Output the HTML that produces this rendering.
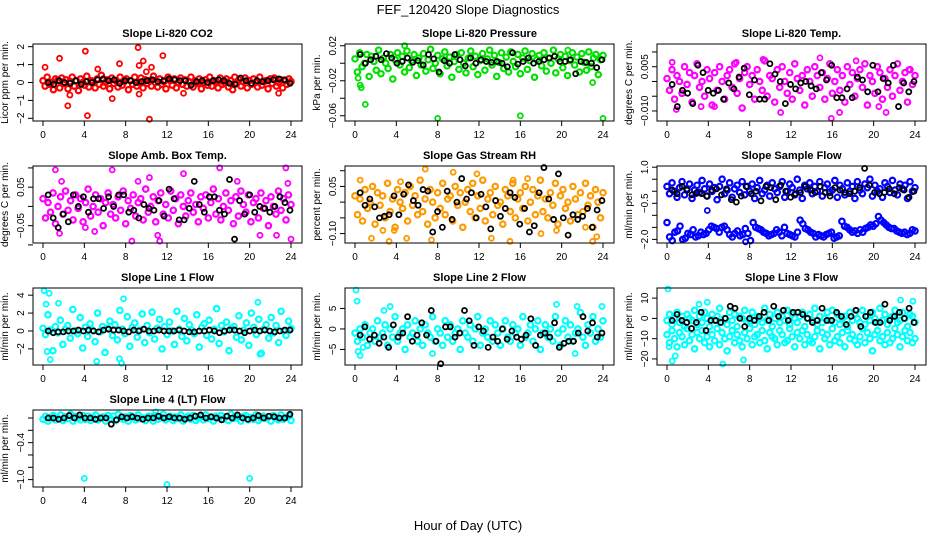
<!DOCTYPE html>
<html><head><meta charset="utf-8">
<style>
body{margin:0;background:#fff;}
svg{display:block;font-family:"Liberation Sans",sans-serif;}
</style></head>
<body>
<svg id="c" width="936" height="540" viewBox="0 0 936 540">
<rect width="936" height="540" fill="#fff"/>
<text x="468" y="14" text-anchor="middle" font-size="13">FEF_120420  Slope Diagnostics</text>
<text x="468" y="530" text-anchor="middle" font-size="13">Hour of Day (UTC)</text>
</svg>
<script>
const xTicks=[0,4,8,12,16,20,24];
// Panel 1: CO2
const co2Main=[0.1,-0.2,0.3,-0.1,0.0,-0.4,0.2,0.1,-0.3,0.25,-0.05,0.15,-0.35,0.05,0.3,-0.2,0.1,-0.45,0.2,0.0,-0.15,0.35,-0.25,0.1,0.05,-0.3,0.2,-0.1,0.4,-0.2,0.0,0.15,-0.35,0.25,-0.05,0.1,-0.25,0.3,-0.15,0.05,0.2,-0.4,0.1,-0.1,0.3,-0.2,0.0,0.25,-0.3,0.15,-0.05,0.1,-0.2,0.35,0.0,-0.25,0.2,-0.1,0.05,-0.35,0.3,0.1,-0.15,0.2,-0.3,0.0,0.25,-0.1,0.15,-0.2,0.05,0.3,-0.25,0.1,-0.05,0.2,-0.35,0.0,0.15,-0.15,0.3,-0.2,0.1,0.05,-0.3,0.25,-0.1,0.0,0.2,-0.25,0.1,-0.4,0.3,-0.05,0.15,-0.2,0.05,0.25,-0.3,0.1,-0.1,0.2,0.0,-0.25,0.3,-0.15,0.05,0.1,-0.35,0.2,-0.05,0.25,-0.2,0.0,0.15,-0.3,0.1,-0.1,0.2,0.05];
const co2Out=[[0.2,0.85],[1.6,1.35],[2.4,-1.3],[2.6,-0.7],[4.1,1.75],[4.3,-1.85],[5.3,0.75],[6.7,-0.9],[7.4,1.05],[9.2,1.95],[9.3,0.95],[9.3,-0.65],[9.7,1.2],[10.0,0.6],[10.3,-2.05],[10.5,0.85],[11.6,1.5],[13.6,-0.6],[22.8,-0.6]];
const co2Black=[0,-0.1,0.1,0,-0.05,0.1,-0.1,0.05,0,0.15,0.2,0.1,0.15,-0.05,0.1,0.1,0,0.05,0.1,0.15,0.05,0.1,0.2,0.15,0.1,0.1,-0.15,0.05,0.1,0,0.1,0.15,0.1,-0.05,-0.1,0.25,0.1,-0.05,0.1,0.05,0.1,0.15,0.2,0.15,-0.05];
// Panel 2: Pressure
const prMain=[0.005,-0.01,0.012,-0.004,0.0,0.01,-0.015,0.008,0.002,-0.008,0.015,-0.012,0.006,0.0,-0.006,0.01,-0.018,0.004,0.012,-0.002,0.008,-0.01,0.014,-0.005,0.003,0.01,-0.014,0.006,-0.002,0.011,-0.009,0.004,0.016,-0.006,0.0,0.009,-0.012,0.005,0.013,-0.003,0.007,-0.016,0.002,0.01,-0.007,0.012,0.0,-0.011,0.006,0.014,-0.004,0.008,-0.013,0.003,0.011,-0.008,0.005,0.015,-0.002,0.009,-0.015,0.001,0.012,-0.006,0.007,-0.01,0.013,0.002,-0.004,0.01,-0.012,0.006,0.014,-0.007,0.003,0.011,-0.016,0.004,0.009,-0.003,0.012,-0.009,0.006,0.0,0.015,-0.011,0.005,0.01,-0.005,0.008,-0.014,0.003,0.012,-0.002,0.007,-0.01,0.011,0.001,-0.008,0.013,-0.004,0.006,0.01,-0.013,0.004,0.009];
const prOut=[[0.3,-0.017],[0.5,-0.025],[0.6,-0.028],[1.0,-0.047],[8.0,-0.063],[16.0,-0.06],[23.0,-0.022],[24.0,-0.063],[4.8,0.02],[20.6,0.015]];
const prBlack=[0.01,0.0,0.004,0.008,0.004,0.011,0.006,0.0,0.002,0.006,0.001,0.003,-0.002,0.01,0.005,-0.01,0.003,0.0,0.01,0.004,-0.003,0.006,0.0,0.004,0.002,0.001,0.002,0.0,-0.004,0.012,-0.001,0.002,0.006,0.0,0.002,0.004,0.006,0.008,0.002,0.002,0.004,-0.012,0.002,0.001,0.0,-0.005,0.004];
// Panel 3: Li-820 Temp
const tpMain=[0.001,-0.003,0.004,-0.006,0.002,0.0,-0.004,0.005,-0.001,0.003,-0.007,0.002,0.006,-0.002,0.0,-0.005,0.004,0.001,-0.008,0.003,-0.003,0.005,0.0,-0.006,0.002,0.004,-0.002,0.006,-0.004,0.001,-0.009,0.003,0.005,-0.001,0.002,-0.006,0.004,0.0,-0.003,0.007,-0.005,0.002,0.001,-0.007,0.004,-0.002,0.005,0.0,-0.004,0.003,-0.006,0.006,0.001,-0.003,0.002,-0.008,0.004,0.0,-0.005,0.005,0.002,-0.002,0.003,-0.006,0.001,0.006,-0.004,0.0,0.004,-0.003,0.002,-0.007,0.005,-0.001,0.003,-0.005,0.001,0.004,-0.002,0.006,-0.008,0.002,0.0,-0.004,0.005,0.003,-0.006,0.001,-0.002,0.004,-0.005,0.002,0.006,-0.003,0.0,0.003,-0.007,0.004,-0.001,0.002];
const tpOut=[[0.5,0.0065],[0.9,-0.0095],[3.3,-0.0085],[4.6,-0.0085],[6.7,0.0065],[9.3,0.0075],[11.0,-0.0105],[14.8,0.008],[15.9,-0.0125],[16.7,-0.0105],[18.3,0.007],[20.5,-0.0085],[21.2,-0.0105],[23.4,0.004]];
const tpBlack=[-0.001,-0.0085,-0.003,-0.004,-0.0075,0.0055,0.003,-0.003,-0.004,-0.003,-0.006,-0.0005,-0.0025,0.0015,0.0045,-0.0045,0.0005,-0.006,-0.006,0.006,0.0025,0.0,-0.0075,-0.001,-0.0025,-0.0005,0.0,-0.0015,-0.0025,0.003,0.0005,0.0055,-0.0055,-0.0055,-0.0025,-0.0055,0.0015,0.0005,-0.0035,0.0055,-0.0035,0.001,-0.0005,0.0055,-0.0085,-0.0005,-0.0035,0.0];
// Panel 4: Amb. Box Temp
const abMain=[0.02,-0.03,0.01,-0.015,0.035,-0.045,0.0,0.025,-0.02,0.04,-0.01,0.015,-0.035,0.03,-0.005,0.02,-0.04,0.01,0.045,-0.025,0.0,0.03,-0.015,0.02,-0.05,0.01,0.035,-0.02,0.005,-0.03,0.025,-0.01,0.04,-0.045,0.015,-0.005,0.03,-0.025,0.01,0.02,-0.035,0.045,-0.015,0.0,0.025,-0.04,0.015,0.035,-0.02,0.005,-0.03,0.04,-0.01,0.02,-0.045,0.03,0.0,-0.025,0.015,0.035,-0.015,0.005,-0.04,0.025,-0.005,0.03,-0.03,0.01,0.045,-0.02,0.02,-0.035,0.0,0.035,-0.01,0.015,-0.045,0.025,-0.025,0.04,0.005,-0.015,0.03,-0.04,0.01,0.02,-0.03,0.035,-0.005,0.015,-0.05,0.025,0.0,-0.02,0.04,-0.01,0.02,-0.035,0.03,0.005];
const abOut=[[1.6,-0.07],[1.2,0.095],[1.8,0.065],[4.1,-0.055],[5.0,-0.065],[6.7,0.095],[8.6,-0.09],[9.2,0.065],[10.3,0.075],[11.1,-0.075],[11.3,-0.09],[13.6,0.085],[17.1,0.1],[18.8,0.065],[21.0,-0.075],[22.6,-0.075],[23.5,0.1],[23.7,0.06],[24.0,-0.085]];
const abBlack=[0.03,-0.03,-0.055,-0.02,-0.04,0.03,0.0,0.025,-0.015,0.02,0.02,-0.005,0.025,0.0,0.03,0.03,-0.015,-0.01,-0.03,0.005,-0.005,-0.01,0.015,-0.025,0.045,0.02,-0.035,-0.035,-0.005,0.065,0.005,-0.015,0.025,0.025,-0.01,-0.02,0.07,-0.085,0.015,-0.02,0.03,-0.015,0.0,-0.005,-0.015,0.0,0.025,0.01,-0.01];
// Panel 5: Gas Stream RH
const rhMain=[0.02,-0.04,0.01,-0.06,0.04,-0.02,0.0,0.05,-0.07,0.03,-0.01,0.02,-0.05,0.06,-0.03,0.01,-0.08,0.04,0.0,-0.02,0.03,-0.06,0.05,-0.01,0.02,-0.04,0.07,-0.03,0.01,-0.07,0.04,0.0,-0.05,0.03,-0.02,0.06,-0.04,0.01,0.02,-0.06,0.05,-0.01,0.03,-0.08,0.0,0.04,-0.03,0.06,-0.05,0.02,-0.02,0.07,-0.06,0.01,0.03,-0.04,0.05,-0.01,0.0,-0.07,0.04,0.02,-0.03,0.06,-0.05,0.01,0.03,-0.02,0.05,-0.06,0.0,0.04,-0.04,0.02,0.07,-0.03,0.01,-0.05,0.03,-0.01,0.06,-0.07,0.02,0.04,-0.02,0.0,-0.06,0.05,0.01,-0.04,0.03,-0.03,0.06,-0.01,0.02,-0.08,0.04,0.0,-0.05,0.03];
const rhOut=[[0.5,0.07],[1.6,-0.115],[2.7,-0.09],[3.3,-0.125],[3.8,-0.09],[4.4,0.065],[5.0,-0.115],[6.8,0.105],[7.4,-0.12],[9.5,0.095],[11.8,0.09],[13.2,-0.115],[15.0,-0.125],[15.3,0.07],[16.7,0.075],[18.0,-0.1],[19.5,-0.09],[22.3,-0.08],[23.0,-0.125],[23.4,-0.11]];
const rhBlack=[0.03,-0.01,0.01,-0.015,-0.05,-0.045,-0.04,0.02,-0.04,0.025,0.055,0.005,-0.01,0.04,0.035,-0.095,-0.03,-0.08,0.035,-0.055,0.0,0.075,0.01,0.03,-0.05,0.025,-0.015,-0.085,0.005,-0.045,-0.02,0.03,0.015,-0.07,-0.02,-0.095,-0.075,0.03,0.11,0.01,-0.055,0.09,-0.05,-0.105,-0.04,-0.055,-0.045,-0.02,-0.08,-0.025,0.005];
// Panel 6: Sample Flow
const sfUpper=[0.2,-0.1,0.35,0.0,-0.25,0.15,0.4,-0.15,0.1,0.3,-0.3,0.05,0.25,-0.05,0.45,0.1,-0.2,0.3,0.0,0.15,-0.35,0.2,0.5,-0.1,0.05,0.35,-0.25,0.1,0.25,-0.05,0.4,-0.15,0.2,0.0,0.3,-0.3,0.15,0.45,-0.1,0.05,0.25,-0.2,0.35,0.1,-0.05,0.2,0.4,-0.25,0.0,0.3,0.15,-0.15,0.5,0.05,-0.3,0.25,0.1,0.35,-0.1,0.2,0.0,0.4,-0.2,0.15,0.3,-0.05,0.05,0.45,-0.25,0.25,0.1,-0.15,0.35,0.0,0.2,-0.3,0.4,0.05,-0.1,0.3,0.15,0.5,-0.2,0.25,0.0,0.1,-0.25,0.35,0.2,-0.05,0.45,0.05,-0.15,0.3,0.1,0.25,-0.3,0.4,0.0,0.15];
const sfLower=[-1.3,-1.9,-2.05,-1.7,-1.65,-1.45,-2.0,-1.95,-1.75,-1.8,-1.6,-1.9,-1.85,-1.7,-1.8,-1.75,-1.6,-1.45,-1.5,-1.55,-1.7,-1.5,-1.45,-1.6,-1.8,-1.9,-1.75,-1.65,-1.85,-1.8,-1.55,-1.75,-2.05,-1.3,-1.5,-1.55,-1.6,-1.7,-1.75,-1.85,-1.8,-1.75,-1.6,-1.7,-1.85,-1.5,-1.75,-1.8,-1.85,-1.9,-1.7,-1.2,-1.35,-1.55,-1.6,-1.7,-1.75,-1.9,-1.8,-1.85,-1.9,-1.8,-1.75,-1.7,-1.95,-1.9,-1.85,-1.25,-1.45,-1.5,-1.6,-1.7,-1.65,-1.75,-1.6,-1.7,-1.55,-1.5,-1.4,-1.45,-1.35,-1.05,-1.2,-1.3,-1.4,-1.5,-1.55,-1.55,-1.65,-1.7,-1.75,-1.7,-1.8,-1.75,-1.6,-1.65];
const sfOut=[[3.9,-0.8],[7.6,-2.1],[2.8,-0.1]];
const sfBlack=[0.05,-0.1,0.2,0.05,-0.15,-0.05,-0.1,-0.2,0.05,0.1,-0.15,0.1,-0.35,-0.45,-0.2,0.2,-0.1,0.0,-0.4,0.2,0.15,-0.35,0.25,0.0,-0.25,-0.1,-0.05,0.2,0.05,-0.05,0.2,-0.05,-0.2,0.15,0.05,-0.05,-0.1,0.0,0.15,0.95,0.25,-0.05,-0.1,-0.05,0.1,-0.1,0.15,0.05,-0.25,0.0];
// Panel 7: Line 1 Flow
const l1Main=[0.3,-0.4,1.8,0.1,-2.2,0.5,-0.2,1.2,-1.5,0.2,0.6,-0.8,2.4,0.0,-0.3,1.5,-1.9,0.4,-0.6,0.8,0.1,-1.2,2.0,-0.1,0.5,-2.4,0.3,1.1,-0.5,0.7,-1.0,2.3,0.2,-0.3,1.6,-1.7,0.4,0.9,-0.7,0.1,1.9,-1.3,0.6,-0.2,2.1,-0.9,0.3,1.3,-2.0,0.5,-0.4,1.0,0.0,-1.5,2.2,0.2,-0.6,1.4,-1.1,0.7,0.1,-0.3,1.8,-1.8,0.4,0.8,-0.5,1.2,-0.9,0.2,2.5,-1.4,0.6,-0.1,1.0,-2.2,0.3,0.5,-0.7,1.7,-1.0,0.1,0.9,-1.6,2.0,0.4,-0.4,1.3,-2.5,0.2,0.7,-0.8,1.5,-0.2,0.6,-1.3,2.2,0.0,-0.5,1.1,0.3];
const l1Out=[[0.1,4.5],[0.6,4.2],[0.3,3.0],[0.4,-2.3],[0.7,-3.2],[1.5,3.1],[5.2,-3.4],[7.4,-3.1],[7.6,-3.6],[7.8,3.6],[20.8,3.2],[21.0,-2.6]];
const l1Black=[0.0,-0.2,-0.1,-0.1,0.0,0.0,0.1,0.0,0.1,0.0,-0.1,0.1,0.2,0.1,0.1,0.0,-0.1,0.1,0.0,0.2,0.0,0.0,0.1,0.0,0.0,0.0,0.1,0.0,-0.1,-0.1,0.0,0.0,0.1,0.0,-0.2,0.0,0.1,0.1,0.0,-0.2,0.0,0.1,0.0,0.1,0.0,-0.1,0.0,0.1,0.1];
// Panel 8: Line 2 Flow
const l2Main=[-1,-3,0,-2,1,-4,-1,0,-3,2,-2,-1,1,-4,0,-2,3,-3,-1,0,-5,1,-2,-1,2,-3,0,-4,1,-1,-2,3,-3,0,-1,-4,2,-2,1,-3,-1,0,-5,2,-1,-2,1,-3,0,3,-4,-1,0,-2,2,-3,1,-1,-4,0,2,-2,-3,1,-1,0,-4,3,-2,-1,1,-3,0,2,-5,-1,1,-2,0,-3,3,-1,-4,0,2,-2,1,-3,-1,0,4,-2,-4,1,-1,3,-3,0,-2,2];
const l2Out=[[0.1,9.5],[0.2,6.8],[0.3,-5.5],[0.5,-6.5],[0.8,-4.5],[2.8,4.5],[3.4,5.5],[7.5,-6.0],[19.5,6.0],[21.3,-6.0],[21.5,5.5],[23.9,5.5]];
const l2Black=[-1.5,0.5,-2.5,-1.5,-3.5,-2.0,-4.5,1.0,-2.0,-1.0,3.0,-3.0,-1.5,1.5,-1.5,4.5,-3.0,-8.5,0.5,0.5,-2.0,-1.0,4.5,2.0,-4.0,0.5,-0.5,-4.5,-2.0,-3.0,0.0,-2.5,-0.5,-2.0,-2.5,-1.5,2.5,-4.0,-1.5,-1.0,-2.0,1.5,-4.5,-3.5,-3.0,-3.0,-1.0,3.0,-0.5,1.5,-2.0,-1.0];
// Panel 9: Line 3 Flow
const l3Upper=[-1,2,-3,0,3,-2,1,-4,2,0,-1,4,-3,1,-2,3,0,-4,2,-1,1,5,-2,0,-3,3,-1,2,-4,1,0,4,-2,-1,3,-3,1,0,-2,5,-1,2,-4,0,3,-2,1,-1,4,-3,2,0,-2,1,3,-4,0,2,-1,5,-3,1,-2,0,3,-1,4,-2,2,-3,0,1,-4,3,-1,2,0,-2,4,-3,1,-1,3,0,-2,5,-1,2,-3,0,1,4,-2,-1,3,0,-4,2,1,-2];
const l3Lower=[-8,-12,-6,-10,-14,-7,-9,-13,-5,-11,-8,-15,-7,-10,-6,-12,-9,-14,-8,-11,-5,-13,-7,-10,-16,-9,-6,-12,-8,-11,-14,-7,-10,-5,-13,-9,-8,-12,-6,-11,-15,-7,-9,-10,-13,-6,-8,-12,-11,-5,-9,-14,-7,-10,-6,-13,-8,-11,-12,-9,-6,-15,-7,-10,-8,-13,-5,-11,-9,-12,-7,-14,-6,-10,-8,-11,-13,-9,-5,-12,-7,-10,-16,-8,-6,-11,-9,-13,-7,-12,-10,-5,-8,-14,-9,-6,-11,-7,-12,-10];
const l3Out=[[0.1,14.5],[0.2,-14],[0.5,-21],[0.8,-18.5],[5.4,-22.5],[7.4,-20.5],[3.1,7],[3.9,8],[22.6,9],[23.8,8.5]];
const l3Black=[-1,2,-1,-2,-5,-2,3,-6,-1,-1,-2,0,6,5,0,-4,0,-1,1,3,-1,6,1,4,-1,3,3,2,0,-2,-1,5,-1,-1,3,1,-3,1,4,-4,1,3,-2,-2,7,-1,1,3,0,5,-2];
// Panel 10: Line 4 (LT) Flow
const l4Main=[-0.02,0.03,-0.05,0.01,0.04,-0.03,0.0,0.05,-0.04,0.02,-0.01,0.06,-0.05,0.02,0.0,-0.03,0.04,-0.02,0.03,-0.04,0.01,0.05,-0.03,0.0,0.02,-0.05,0.04,-0.01,0.03,-0.04,0.06,0.0,-0.02,0.02,-0.05,0.04,0.01,-0.03,0.05,-0.01,0.0,-0.04,0.03,0.02,-0.05,0.04,-0.02,0.01,0.06,-0.03,0.0,0.03,-0.04,0.02,-0.01,0.05,-0.05,0.01,0.03,-0.02,0.04,-0.04,0.0,0.02,-0.03,0.05,-0.01,0.01,-0.05,0.03,0.0,0.04,-0.02,0.02,-0.04,0.06,-0.01,0.0,0.03,-0.05,0.02,0.04,-0.03,0.01,-0.02,0.05,-0.04,0.0,0.03,-0.01,0.02,-0.05,0.04,0.0,-0.03,0.05,-0.02,0.01,0.03,-0.04];
const l4Out=[[4.0,-0.98],[12.0,-1.08],[20.0,-0.98],[10.9,0.1]];
const l4Black=[0.0,0.0,-0.02,0.0,0.04,0.0,0.05,0.0,0.0,-0.02,0.0,0.0,-0.1,-0.03,0.02,0.0,0.02,0.0,-0.02,0.0,0.0,0.03,0.0,0.02,0.0,0.0,-0.02,0.0,0.03,0.05,0.0,0.02,0.0,-0.03,0.03,0.0,0.05,0.0,-0.02,0.0,0.04,0.0,0.03,0.02,0.0,0.0,0.06];

const panels=[
 {name:'co2',title:'Slope Li-820 CO2',ylab:'Licor ppm per min.',ylim:[-2.15,2.15],ticks:[-2,-1,0,1,2],labels:['\u22122','\u22121','0','1','2'],col:'#ff0000',series:[co2Main],out:co2Out,black:co2Black},
 {name:'pressure',title:'Slope Li-820 Pressure',ylab:'kPa per min.',ylim:[-0.066,0.022],ticks:[-0.06,-0.04,-0.02,0,0.02],labels:['\u22120.06','','\u22120.02','','0.02'],col:'#00e000',series:[prMain],out:prOut,black:prBlack},
 {name:'temp',title:'Slope Li-820 Temp.',ylab:'degrees C per min.',ylim:[-0.0134,0.0127],ticks:[-0.01,-0.005,0,0.005,0.01],labels:['\u22120.010','','','0.005',''],col:'#ff00ff',series:[tpMain],out:tpOut,black:tpBlack},
 {name:'amb-box-temp',title:'Slope Amb. Box Temp.',ylab:'degrees C per min.',ylim:[-0.095,0.105],ticks:[-0.1,-0.05,0,0.05,0.1],labels:['','\u22120.05','','0.05',''],col:'#ff00ff',series:[abMain],out:abOut,black:abBlack},
 {name:'gas-rh',title:'Slope Gas Stream RH',ylab:'percent per min.',ylim:[-0.13,0.115],ticks:[-0.1,-0.05,0,0.05,0.1],labels:['\u22120.10','','','0.05',''],col:'#ff9900',series:[rhMain],out:rhOut,black:rhBlack},
 {name:'sample-flow',title:'Slope Sample Flow',ylab:'ml/min per min.',ylim:[-2.15,1.05],ticks:[-2,-1.5,-1,-0.5,0,0.5,1],labels:['\u22122.0','','','\u22120.5','','','1.0'],col:'#0000ff',series:[sfUpper,sfLower],out:sfOut,black:sfBlack},
 {name:'line1-flow',title:'Slope Line 1 Flow',ylab:'ml/min per min.',ylim:[-3.8,4.8],ticks:[-2,0,2,4],labels:['\u22122','0','2','4'],col:'#00ffff',series:[l1Main],out:l1Out,black:l1Black},
 {name:'line2-flow',title:'Slope Line 2 Flow',ylab:'ml/min per min.',ylim:[-8.8,10],ticks:[-5,0,5],labels:['\u22125','0','5'],col:'#00ffff',series:[l2Main],out:l2Out,black:l2Black},
 {name:'line3-flow',title:'Slope Line 3 Flow',ylab:'ml/min per min.',ylim:[-23,15],ticks:[-20,-10,0,10],labels:['\u221220','\u221210','0','10'],col:'#00ffff',series:[l3Upper,l3Lower],out:l3Out,black:l3Black},
 {name:'line4-flow',title:'Slope Line 4 (LT) Flow',ylab:'ml/min per min.',ylim:[-1.12,0.13],ticks:[-1,-0.8,-0.6,-0.4,-0.2,0],labels:['\u22121.0','','','\u22120.4','',''],col:'#00ffff',series:[l4Main],out:l4Out,black:l4Black}
];
const NS='http://www.w3.org/2000/svg';
const svg=document.getElementById('c');
function mk(tag,attrs,parent){const e=document.createElementNS(NS,tag);for(const k in attrs)e.setAttribute(k,attrs[k]);(parent||svg).appendChild(e);return e;}
const colLeft=[33,345,657],rowTop=[44,166,288,410],W=269,H=77;
panels.forEach((p,i)=>{
 const L=colLeft[i%3],T=rowTop[Math.floor(i/3)];
 const g=mk('g',{});
 
 
 const xs=h=>L+10+h*(248/24);
 const ys=v=>T+H-(v-p.ylim[0])/(p.ylim[1]-p.ylim[0])*H;
 const t=mk('text',{x:L+W/2,y:T-7,'text-anchor':'middle','font-size':11,'font-weight':'bold'},g);t.textContent=p.title;
 
 
 const yl=mk('text',{x:0,y:0,'text-anchor':'middle','font-size':10,transform:`translate(${L-25},${T+H/2}) rotate(-90)`},g);yl.textContent=p.ylab;
 
 
 const pts=mk('g',{},g);
 
 
 const dot=(h,v,c,r,w)=>{const e=mk('circle',{cx:xs(h),cy:ys(v),r:r,fill:'none',stroke:c,'stroke-width':w},pts);
  
  };
 p.series.forEach(s=>s.forEach((v,j)=>dot(j*24/(s.length-1),v,p.col,2.7,2.2)));
 p.out.forEach(o=>dot(o[0],o[1],p.col,2.5,1.8));
 p.black.forEach((v,j)=>dot(0.5+j*23.4/(p.black.length-1),v,'#000',2.5,1.8));
 const box=mk('rect',{x:L,y:T,width:W,height:H,fill:'none',stroke:'#000','stroke-width':1},g);
 
 
 p.ticks.forEach((tv,k)=>{const y=ys(tv);mk('line',{x1:L-5,x2:L,y1:y,y2:y,stroke:'#000'},g);
  if(p.labels[k]){const tl=mk('text',{x:0,y:0,'text-anchor':'middle','font-size':10,transform:`translate(${L-9},${y}) rotate(-90)`},g);tl.textContent=p.labels[k];
  
  }});
 xTicks.forEach(h=>{const x=xs(h);mk('line',{x1:x,x2:x,y1:T+H,y2:T+H+5,stroke:'#000'},g);
  const xl=mk('text',{x:x,y:T+H+17,'text-anchor':'middle','font-size':10},g);xl.textContent=h;
  
  });
});
</script>
</body></html>
